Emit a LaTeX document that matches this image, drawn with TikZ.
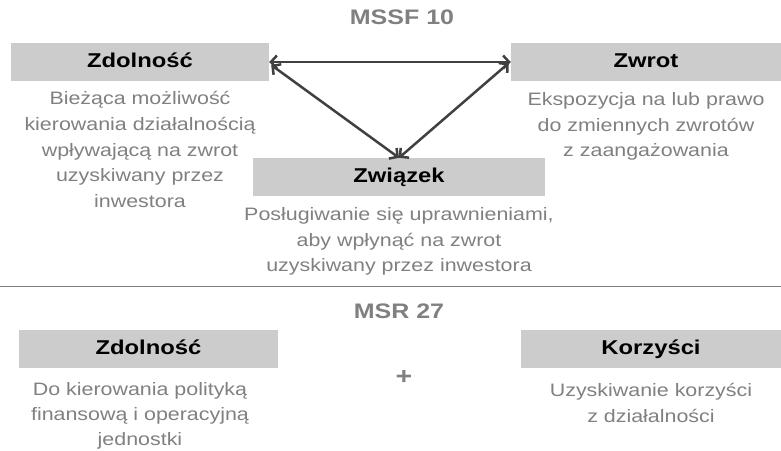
\documentclass[tikz,border=0pt]{standalone}
\usepackage{fontspec}
\setmainfont{Liberation Sans}[FakeStretch=1.19]
\usetikzlibrary{arrows.meta, positioning}
\definecolor{boxGray}{RGB}{204,204,204}
\definecolor{textGray}{RGB}{128,128,128}
\definecolor{arrowGray}{RGB}{64,64,64}

\begin{document}
\begin{tikzpicture}[x=1pt, y=-1pt,
		head/.style={fill=boxGray, minimum height=38pt, inner sep=0pt, text height=14pt, text depth=4pt, font=\fontsize{20}{22}\selectfont\bfseries},
		desc/.style={text=textGray, align=center, anchor=north, inner sep=0pt, font=\fontsize{18}{25.7}\selectfont},
		title/.style={text=textGray, font=\fontsize{21}{24}\selectfont\bfseries},
		link/.style={arrowGray, line width=2.5pt, {Straight Barb[length=6pt, width=13pt]}-{Straight Barb[length=6pt, width=13pt]}}
	]
	\useasboundingbox (0,0) rectangle (781,450);

	% MSSF 10
	\node[title] (mssf) at (402,17) {MSSF 10};
	\node[head, minimum width=258pt] (zd) at (140,62) {Zdolność};
	\node[head, minimum width=270pt] (zwr) at (646,62) {Zwrot};
	\node[head, minimum width=292pt] (zw) at (399,177) {Związek};

	\node[desc, below=10pt of zd] (zdtxt) {Bieżąca możliwość\\kierowania działalnością\\wpływającą na zwrot\\uzyskiwany przez\\inwestora};
	\node[desc, below=11pt of zwr] (zwrtxt) {Ekspozycja na lub prawo\\do zmiennych zwrotów\\z zaangażowania};
	\node[desc, below=11pt of zw] (zwtxt) {Posługiwanie się uprawnieniami,\\aby wpłynąć na zwrot\\uzyskiwany przez inwestora};

	\draw[link] (zd.east) -- (zwr.west);
	\draw[link] ([shift={(2,3)}]zd.east) -- (zw.north);
	\draw[link] ([shift={(-2,1)}]zwr.west) -- (zw.north);

	\draw[textGray, line width=1pt] (0,286) -- (781,286);

	% MSR 27
	\node[title] (msr) at (399,311) {MSR 27};
	\node[head, minimum width=259pt] (zdb) at (148.5,349) {Zdolność};
	\node[head, minimum width=260pt] (kor) at (651,349) {Korzyści};
	\node[title, font=\fontsize{24}{24}\selectfont\bfseries] (plus) at (404,377) {+};

	\node[desc, font=\fontsize{18}{25}\selectfont] (zdbtxt) at (140,382) {Do kierowania polityką\\finansową i operacyjną\\jednostki};
	\node[desc, below=15pt of kor] (kortxt) {Uzyskiwanie korzyści\\z działalności};

\end{tikzpicture}
\end{document}
